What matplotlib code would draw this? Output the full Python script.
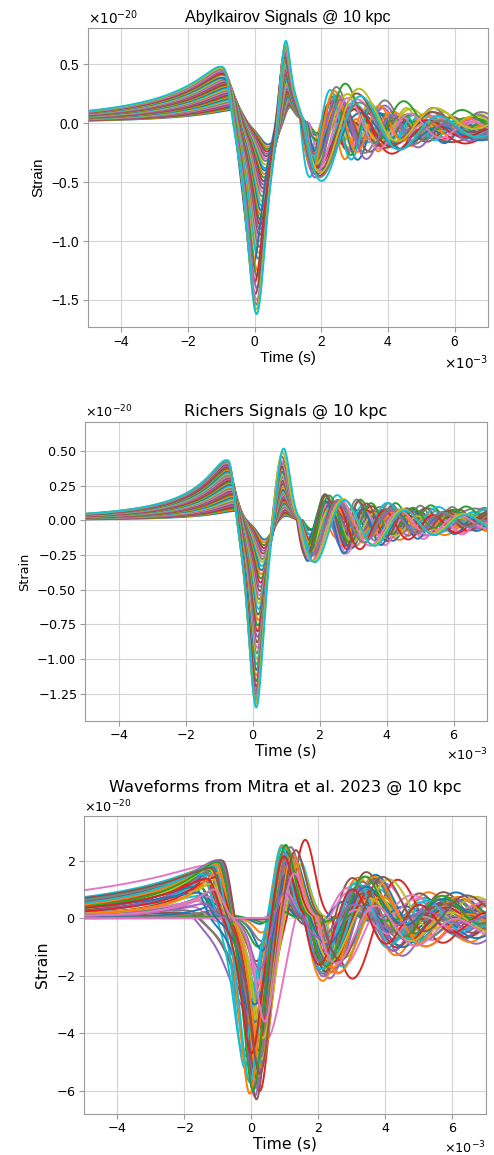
import numpy as np
import matplotlib
matplotlib.use("Agg")
import matplotlib.pyplot as plt
from matplotlib.ticker import MultipleLocator

# all amplitudes in units of 1e-20 strain, all times in ms

# --- Abylkairov signals (one entry per curve) ---
ab_pre = [0.12, 0.13, 0.14, 0.15, 0.16, 0.17, 0.18, 0.19, 0.20, 0.21,
          0.22, 0.23, 0.24, 0.25, 0.26, 0.27, 0.28, 0.29, 0.30, 0.31,
          0.32, 0.33, 0.34, 0.35, 0.36, 0.37, 0.38, 0.39, 0.40, 0.41,
          0.42, 0.43, 0.44, 0.45, 0.46, 0.47, 0.47, 0.48, 0.49, 0.50]
ab_tpre = [-0.50, -0.51, -0.52, -0.53, -0.55, -0.56, -0.57, -0.58, -0.60, -0.61,
           -0.62, -0.63, -0.64, -0.66, -0.67, -0.68, -0.69, -0.70, -0.71, -0.72,
           -0.73, -0.74, -0.75, -0.76, -0.77, -0.78, -0.79, -0.80, -0.81, -0.82,
           -0.83, -0.84, -0.85, -0.86, -0.87, -0.88, -0.89, -0.90, -0.92, -0.94]
ab_dip = [-0.18, -0.20, -0.22, -0.24, -0.26, -0.28, -0.30, -0.32, -0.35, -0.38,
          -0.40, -0.43, -0.46, -0.49, -0.52, -0.55, -0.58, -0.62, -0.66, -0.70,
          -0.74, -0.78, -0.82, -0.86, -0.90, -0.95, -1.00, -1.05, -1.10, -1.15,
          -1.20, -1.25, -1.30, -1.35, -1.40, -1.45, -1.50, -1.54, -1.58, -1.62]
ab_tdip = [0.40, 0.39, 0.38, 0.37, 0.36, 0.35, 0.34, 0.33, 0.32, 0.31,
           0.30, 0.29, 0.28, 0.27, 0.26, 0.25, 0.24, 0.23, 0.22, 0.21,
           0.20, 0.19, 0.18, 0.17, 0.16, 0.15, 0.14, 0.13, 0.12, 0.11,
           -0.05, 0.09, 0.08, 0.00, 0.07, 0.02, 0.06, 0.05, 0.05, 0.06]
ab_post = [0.15, 0.16, 0.17, 0.18, 0.19, 0.20, 0.21, 0.22, 0.23, 0.24,
           0.25, 0.27, 0.28, 0.30, 0.32, 0.33, 0.34, 0.36, 0.37, 0.39,
           0.41, 0.43, 0.44, 0.46, 0.47, 0.49, 0.51, 0.53, 0.54, 0.56,
           0.57, 0.59, 0.60, 0.62, 0.63, 0.65, 0.66, 0.68, 0.70, 0.73]
ab_tpost = [1.04, 1.03, 1.02, 1.02, 1.01, 1.00, 1.00, 0.99, 0.99, 0.98,
            0.98, 0.97, 0.97, 0.96, 0.96, 0.95, 0.95, 0.94, 0.94, 0.93,
            0.93, 0.93, 0.92, 0.92, 0.92, 0.91, 0.91, 0.91, 0.90, 0.90,
            0.88, 0.90, 0.89, 0.88, 0.89, 0.89, 0.90, 0.91, 0.91, 0.92]
ab_ring = [0.10, 0.18, 0.12, 0.22, 0.14, 0.26, 0.16, 0.24, 0.30, 0.18,
           0.28, 0.34, 0.20, 0.32, 0.36, 0.24, 0.34, 0.40, 0.26, 0.36,
           0.42, 0.30, 0.38, 0.44, 0.32, 0.40, 0.46, 0.36, 0.42, 0.48,
           0.38, 0.44, 0.50, 0.40, 0.46, 0.52, 0.44, 0.50, 0.54, 0.56]
ab_per = [1.10, 0.90, 1.30, 1.00, 1.50, 1.20, 0.95, 1.40, 1.10, 1.60,
          1.25, 1.00, 1.80, 1.15, 1.35, 2.00, 1.05, 1.45, 1.20, 2.10,
          1.30, 1.60, 1.10, 2.20, 1.40, 1.70, 2.30, 1.50, 1.90, 1.25,
          2.40, 1.35, 1.75, 2.20, 1.55, 2.30, 1.85, 2.40, 2.30, 2.35]
ab_delay = [0.55, 0.45, 0.60, 0.50, 0.55, 0.45, 0.65, 0.50, 0.55, 0.45,
            0.60, 0.50, 0.55, 0.45, 0.55, 0.50, 0.60, 0.45, 0.55, 0.50,
            0.55, 0.45, 0.60, 0.50, 0.55, 0.45, 0.50, 0.55, 0.50, 0.45,
            0.55, 0.50, 0.55, 0.50, 0.55, 0.50, 0.55, 0.50, 0.55, 0.55]
ab_off = [-0.02, -0.06, 0.03, -0.09, -0.04, 0.01, -0.11, -0.05, 0.04, -0.08,
          -0.03, -0.10, 0.02, -0.06, -0.01, -0.12, -0.04, 0.05, -0.07, -0.02,
          -0.09, 0.00, -0.05, -0.11, 0.03, -0.07, -0.03, -0.08, 0.01, -0.05,
          -0.10, -0.02, 0.04, -0.06, -0.09, -0.01, -0.04, -0.07, 0.02, -0.05]

# --- Richers signals ---
ri_pre = [0.07, 0.08, 0.09, 0.10, 0.11, 0.12, 0.13, 0.14, 0.15, 0.16,
          0.17, 0.18, 0.19, 0.20, 0.21, 0.22, 0.23, 0.24, 0.25, 0.26,
          0.27, 0.28, 0.29, 0.30, 0.31, 0.32, 0.33, 0.34, 0.35, 0.36,
          0.37, 0.38, 0.39, 0.40, 0.41, 0.42, 0.43, 0.44, 0.45, 0.45]
ri_tpre = [-0.45, -0.46, -0.46, -0.47, -0.48, -0.49, -0.49, -0.50, -0.51, -0.52,
           -0.52, -0.53, -0.54, -0.55, -0.55, -0.56, -0.57, -0.58, -0.58, -0.59,
           -0.60, -0.61, -0.61, -0.62, -0.63, -0.64, -0.64, -0.65, -0.66, -0.66,
           -0.67, -0.68, -0.68, -0.69, -0.70, -0.70, -0.71, -0.71, -0.72, -0.72]
ri_dip = [-0.14, -0.16, -0.18, -0.20, -0.22, -0.24, -0.26, -0.28, -0.30, -0.33,
          -0.36, -0.39, -0.42, -0.45, -0.48, -0.51, -0.54, -0.57, -0.60, -0.64,
          -0.68, -0.72, -0.76, -0.80, -0.84, -0.88, -0.92, -0.96, -1.00, -1.04,
          -1.08, -1.12, -1.16, -1.20, -1.23, -1.26, -1.28, -1.30, -1.32, -1.35]
ri_tdip = [0.36, 0.35, 0.34, 0.34, 0.33, 0.32, 0.31, 0.30, 0.29, 0.28,
           0.27, 0.26, 0.25, 0.24, 0.23, 0.22, 0.21, 0.20, 0.19, 0.18,
           0.17, 0.17, 0.16, 0.15, 0.15, 0.14, 0.14, 0.13, 0.13, 0.12,
           0.12, 0.11, 0.11, 0.11, 0.10, 0.10, 0.10, 0.10, 0.10, 0.11]
ri_post = [0.04, 0.05, 0.06, 0.07, 0.08, 0.09, 0.10, 0.11, 0.12, 0.13,
           0.14, 0.15, 0.16, 0.17, 0.18, 0.19, 0.20, 0.21, 0.22, 0.23,
           0.24, 0.26, 0.28, 0.29, 0.30, 0.31, 0.33, 0.34, 0.35, 0.37,
           0.38, 0.40, 0.41, 0.42, 0.44, 0.45, 0.46, 0.49, 0.52, 0.54]
ri_tpost = [0.96, 0.95, 0.95, 0.95, 0.94, 0.94, 0.94, 0.93, 0.93, 0.93,
            0.92, 0.92, 0.92, 0.91, 0.91, 0.91, 0.90, 0.90, 0.90, 0.90,
            0.89, 0.89, 0.89, 0.89, 0.88, 0.88, 0.88, 0.88, 0.87, 0.87,
            0.87, 0.87, 0.86, 0.86, 0.86, 0.86, 0.85, 0.86, 0.88, 0.92]
ri_ring = [0.06, 0.10, 0.08, 0.12, 0.09, 0.14, 0.11, 0.13, 0.16, 0.10,
           0.15, 0.18, 0.12, 0.17, 0.20, 0.14, 0.18, 0.22, 0.16, 0.20,
           0.23, 0.18, 0.21, 0.25, 0.19, 0.24, 0.26, 0.22, 0.20, 0.25,
           0.27, 0.23, 0.26, 0.28, 0.24, 0.27, 0.29, 0.26, 0.30, 0.30]
ri_per = [1.00, 0.90, 1.20, 1.10, 1.30, 0.95, 1.15, 1.40, 1.05, 1.25,
          0.90, 1.35, 1.10, 1.20, 1.00, 1.45, 1.15, 0.95, 1.30, 1.10,
          1.25, 1.40, 1.05, 1.20, 1.35, 1.00, 1.15, 1.60, 1.30, 1.50,
          1.10, 1.70, 1.25, 1.45, 1.60, 1.20, 1.75, 1.55, 1.80, 1.80]
ri_delay = [0.50, 0.45, 0.55, 0.50, 0.45, 0.55, 0.50, 0.45, 0.50, 0.55,
            0.50, 0.45, 0.50, 0.55, 0.50, 0.45, 0.50, 0.55, 0.50, 0.45,
            0.50, 0.55, 0.50, 0.45, 0.50, 0.55, 0.50, 0.45, 0.50, 0.55,
            0.50, 0.45, 0.50, 0.55, 0.50, 0.45, 0.50, 0.55, 0.50, 0.50]
ri_off = [-0.03, -0.07, 0.01, -0.05, -0.09, -0.02, -0.06, 0.02, -0.08, -0.04,
          -0.01, -0.10, -0.05, 0.00, -0.07, -0.03, -0.09, 0.01, -0.06, -0.02,
          -0.08, -0.04, 0.02, -0.07, -0.05, -0.01, -0.09, -0.03, -0.06, 0.00,
          -0.08, -0.04, -0.02, -0.07, -0.05, -0.03, -0.06, -0.04, -0.05, -0.06]

# --- Mitra et al. 2023 waveforms ---
mi_pre = [0.05, 0.10, 0.15, 0.20, 0.30, 0.25, 0.40, 0.35, 0.60, 0.80, 1.05, 1.15, 1.25, 1.40, 1.50,
          1.62, 1.85, 1.78, 1.82, 1.88, 1.92, 1.97, 2.02, 2.07, 2.12, 2.12, 0.75, 0.95, 1.40, 1.62,
          0.50, 1.92, 1.67, 1.35, 2.07, 1.82, 0.60, 0.32, 1.72, 1.57, 1.12, 2.02, 0.10, 1.45,
          0.00, 0.03, 0.00, 1.70, 1.20, 1.90, 0.90, 1.60, 2.05, 1.40, 0.50, 1.75, 1.00]
mi_tpre = [-0.60, -0.80, -1.00, -1.20, -1.90, -1.80, -1.70, -1.80, -1.50, -1.40, -1.50, -1.30, -1.60, -1.40, -1.20,
           -1.50, -1.30, -1.30, -1.20, -1.10, -1.00, -1.00, -0.95, -0.90, -0.90, -0.85, -1.30, -1.10, -1.00, -1.10,
           -1.00, -1.05, -1.20, -1.35, -0.95, -1.15, -1.60, -1.00, -1.25, -1.45, -1.70, -1.00, -0.60, -1.05,
           -0.60, -0.60, -0.60, -1.40, -1.20, -1.10, -1.55, -1.00, -0.95, -1.30, -1.40, -1.20, -1.10]
mi_wpre = [1.0, 1.5, 2.0, 2.5, 3.0, 4.0, 3.0, 5.0, 4.0, 5.0, 3.5, 6.0, 4.5, 2.5, 7.0,
           5.0, 9.0, 4.0, 3.0, 6.0, 2.0, 5.0, 3.0, 1.5, 4.0, 2.5, 1.5, 2.0, 1.8, 2.2,
           1.2, 3.5, 3.0, 5.0, 2.0, 4.5, 3.5, 1.0, 2.8, 6.0, 4.0, 3.5, 1.0, 2.5,
           1.0, 1.0, 1.0, 5.0, 2.0, 4.0, 6.0, 1.6, 3.0, 3.5, 2.5, 6.0, 1.5]
mi_dip = [-0.20, -0.50, -1.00, -1.50, -3.20, -3.80, -4.20, -3.50, -2.00, -2.60, -3.00, -3.40, -3.80, -4.00, -4.30,
          -4.50, -4.60, -4.80, -5.00, -5.20, -5.40, -5.60, -5.80, -6.00, -6.20, -6.30, -2.40, -3.20, -4.40, -5.00,
          -1.20, -5.50, -4.80, -4.10, -5.90, -5.30, -2.20, -0.80, -4.90, -4.70, -3.60, -6.10, -0.15, -4.60,
          0.00, -0.05, 0.00, -5.00, -4.20, -5.70, -3.00, -5.20, -6.00, -4.70, -1.80, -5.40, -3.60]
mi_tdip = [0.25, 0.30, 0.20, 0.15, -0.10, 0.15, 0.45, 0.20, 0.25, 0.20, 0.25, 0.15, 0.30, 0.20, 0.25,
           0.10, 0.15, -0.15, 0.10, -0.20, 0.15, -0.10, 0.10, 0.25, 0.10, 0.15, 0.30, 0.35, 0.30, 0.25,
           0.35, 0.20, 0.20, 0.15, 0.15, 0.10, 0.20, 0.30, 0.30, -0.25, 0.10, -0.05, 0.35, 0.20,
           0.30, 0.30, 0.30, 0.20, 0.35, -0.05, 0.10, 0.30, 0.05, 0.00, 0.25, 0.25, 0.40]
mi_sdip = [0.26, 0.30, 0.35, 0.39, 0.82, 0.78, 0.60, 0.82, 0.39, 0.39, 0.43, 0.40, 0.43, 0.39, 0.40,
           0.39, 0.43, 0.39, 0.39, 0.38, 0.39, 0.38, 0.39, 0.40, 0.39, 0.38, 0.35, 0.38, 0.39, 0.39,
           0.35, 0.40, 0.40, 0.43, 0.39, 0.39, 0.43, 0.35, 0.43, 0.40, 0.60, 0.39, 0.26, 0.39,
           0.30, 0.30, 0.30, 0.42, 0.40, 0.38, 0.50, 0.40, 0.38, 0.40, 0.35, 0.42, 0.38]
mi_post = [0.30, 0.50, 0.80, 1.00, 1.15, 1.55, 0.95, 1.75, 1.10, 1.45, 1.65, 1.85, 1.80, 2.10, 2.20,
           2.00, 2.30, 2.40, 2.50, 2.60, 2.20, 2.60, 2.70, 2.75, 2.50, 2.60, 1.30, 1.25, 1.80, 2.10,
           0.70, 2.40, 2.30, 2.20, 2.60, 2.50, 1.20, 0.65, 2.00, 2.40, 1.70, 2.55, 0.25, 1.90,
           2.30, 1.50, 0.90, 2.50, 1.90, 2.60, 1.80, 2.40, 2.70, 2.30, 1.00, 2.50, 1.70]
mi_tpost = [0.90, 0.95, 0.90, 0.95, 1.10, 1.00, 1.45, 1.10, 0.95, 1.00, 1.05, 0.95, 1.15, 1.05, 1.10,
            0.95, 1.15, 0.95, 1.05, 0.90, 1.25, 0.90, 1.00, 1.60, 0.95, 1.05, 0.90, 1.35, 1.20, 1.40,
            0.85, 1.10, 1.20, 1.05, 1.15, 1.00, 0.90, 1.00, 1.40, 1.05, 1.10, 1.05, 0.90, 1.15,
            0.95, 1.00, 1.05, 1.00, 1.10, 0.90, 1.05, 1.20, 1.00, 0.95, 0.95, 1.30, 1.25]
mi_spost = [0.30, 0.30, 0.35, 0.38, 0.38, 0.38, 0.35, 0.42, 0.35, 0.35, 0.38, 0.38, 0.38, 0.38, 0.38,
            0.35, 0.42, 0.38, 0.38, 0.35, 0.42, 0.35, 0.38, 0.40, 0.38, 0.38, 0.35, 0.38, 0.38, 0.42,
            0.35, 0.38, 0.42, 0.42, 0.42, 0.42, 0.35, 0.35, 0.42, 0.42, 0.38, 0.38, 0.30, 0.38,
            0.25, 0.25, 0.30, 0.38, 0.38, 0.35, 0.38, 0.40, 0.38, 0.38, 0.35, 0.42, 0.38]
mi_ring = [0.30, 0.50, 0.80, 1.00, 1.20, 1.40, 1.60, 1.30, 1.00, 1.30, 1.50, 1.70, 1.60, 1.80, 2.00,
           1.80, 2.40, 2.00, 2.20, 2.10, 2.00, 2.20, 2.40, 2.60, 2.20, 2.30, 0.90, 1.30, 1.70, 1.90,
           0.60, 2.10, 1.90, 1.70, 2.20, 2.10, 0.90, 0.60, 2.00, 1.90, 1.50, 2.30, 0.20, 1.80,
           1.80, 1.20, 0.80, 2.00, 1.60, 2.10, 1.40, 2.00, 2.20, 1.80, 0.80, 2.10, 1.50]
mi_per = [1.8, 2.0, 2.2, 2.4, 2.0, 2.2, 2.5, 2.3, 2.2, 2.0, 2.4, 2.1, 2.6, 2.3, 2.2,
          2.0, 2.8, 2.1, 2.3, 2.0, 2.4, 2.2, 2.6, 2.7, 2.1, 2.3, 1.9, 2.5, 2.4, 2.2,
          1.8, 2.5, 2.3, 2.1, 2.4, 2.2, 2.0, 2.2, 2.6, 2.4, 2.2, 2.5, 2.0, 2.3,
          2.2, 2.4, 2.0, 2.2, 2.4, 2.1, 2.3, 2.6, 2.3, 2.0, 2.1, 2.5, 2.4]
mi_delay = [0.6, 0.6, 0.7, 0.7, 0.6, 0.7, 0.7, 0.8, 0.6, 0.7, 0.7, 0.7, 0.8, 0.7, 0.7,
            0.6, 0.8, 0.7, 0.7, 0.7, 0.7, 0.7, 0.8, 0.8, 0.7, 0.7, 0.6, 0.7, 0.7, 0.8,
            0.6, 0.7, 0.8, 0.7, 0.8, 0.7, 0.6, 0.6, 0.8, 0.7, 0.7, 0.8, 0.6, 0.7,
            0.6, 0.6, 0.6, 0.7, 0.7, 0.7, 0.7, 0.8, 0.7, 0.6, 0.6, 0.8, 0.7]
mi_off = [0.0, 0.1, -0.2, 0.2, -0.3, 0.0, -0.4, 0.2, 0.0, 0.3, -0.1, 0.4, -0.2, 0.1, -0.5,
          0.3, 0.0, -0.3, 0.2, -0.1, 0.4, -0.4, 0.1, 0.0, -0.2, 0.3, 0.5, -0.3, 0.0, -0.1,
          0.2, -0.2, 0.2, -0.3, 0.1, -0.1, 0.4, -0.2, 0.3, 0.0, -0.4, 0.2, 0.0, -0.1,
          0.0, 0.2, -0.2, 0.1, -0.2, 0.0, 0.3, -0.3, 0.2, -0.1, 0.0, 0.3, -0.4]


def waveform(t, pre, tpre, wpre, fall, dip, tdip, sdip, post, tpost, spost,
             ring, per, delay, tau, off, drift=0.0, shoulder=0.0):
    # slow pre-bounce rise to a rounded peak, then a fast fall
    d = np.sqrt((tpre - t) ** 2 + 0.09) - 0.3
    rise = pre / (1 + d / wpre) ** 2
    drop = pre * np.exp(-((t - tpre) / fall) ** 2)
    h = np.where(t < tpre, rise, drop)
    # sharp bounce dip and the positive peak after it
    h = h + dip / np.cosh((t - tdip) / sdip) ** 2
    h = h + post * np.exp(-((t - tpost) / spost) ** 2)
    h = h + shoulder * post * np.exp(-((t - tpost - 0.3) / 0.2) ** 2)
    # damped ring-down
    s = np.clip(t - (tpost + delay), 0, None)
    h = h - ring * np.sin(2 * np.pi * s / per) * np.exp(-s / tau)
    h = h + (off + drift * s) * (1 - np.exp(-s / 0.3))
    return h


def style_axes(ax, title, ylim, ystep, tick_size, xlabel_size, ylabel_size, family):
    ax.set_xlim(-5e-3, 7e-3)
    ax.set_ylim(ylim[0] * 1e-20, ylim[1] * 1e-20)
    ax.xaxis.set_major_locator(MultipleLocator(2e-3))
    ax.yaxis.set_major_locator(MultipleLocator(ystep * 1e-20))
    ax.ticklabel_format(style="sci", scilimits=(0, 0), axis="both")
    ax.grid(True, color="#d3d3d3", linewidth=0.8)
    ax.set_axisbelow(True)
    for sp in ax.spines.values():
        sp.set_color("#9a9a9a")
    ax.tick_params(color="#9a9a9a", labelsize=tick_size, length=3.5, pad=2.5)
    for lab in ax.get_xticklabels() + ax.get_yticklabels():
        lab.set_fontfamily(family)
    ax.xaxis.get_offset_text().set_fontsize(tick_size)
    ax.yaxis.get_offset_text().set_fontsize(tick_size)
    ax.set_xlabel("Time (s)", fontsize=xlabel_size, family=family, labelpad=1)
    ax.set_ylabel("Strain", fontsize=ylabel_size, family=family)
    ax.set_title(title, fontsize=11.6, family=family, pad=4.5)


def main():
    plt.rcParams["axes.formatter.use_mathtext"] = True
    fig = plt.figure(figsize=(4.94, 11.55), dpi=100)
    t = np.linspace(-5, 7, 1500)
    lw = 1.4

    ax1 = fig.add_axes([0.178, 0.7169, 0.8097, 0.2589])
    for i in range(len(ab_pre)):
        h = waveform(t, ab_pre[i], ab_tpre[i], 3.2, 0.25, ab_dip[i], ab_tdip[i], 0.36,
                     ab_post[i], ab_tpost[i], 0.2, ab_ring[i], ab_per[i], ab_delay[i], 2.5, ab_off[i],
                     shoulder=0.25)
        ax1.plot(t * 1e-3, h * 1e-20, lw=lw)
    style_axes(ax1, "Abylkairov Signals @ 10 kpc", (-1.73, 0.81), 0.5, 9.8, 11.1, 10.9, "Liberation Sans")

    ax2 = fig.add_axes([0.1721, 0.3758, 0.8138, 0.2589])
    for i in range(len(ri_pre)):
        h = waveform(t, ri_pre[i], ri_tpre[i], 1.9, 0.22, ri_dip[i], ri_tdip[i], 0.30,
                     ri_post[i], ri_tpost[i], 0.27, ri_ring[i], ri_per[i], ri_delay[i], 3.0, ri_off[i], 0.008)
        ax2.plot(t * 1e-3, h * 1e-20, lw=lw)
    style_axes(ax2, "Richers Signals @ 10 kpc", (-1.447, 0.709), 0.25, 9.2, 10.9, 9.3, "DejaVu Sans")

    ax3 = fig.add_axes([0.170, 0.0355, 0.8138, 0.258])
    for i in range(len(mi_pre)):
        h = waveform(t, mi_pre[i], mi_tpre[i], mi_wpre[i], 0.35, mi_dip[i], mi_tdip[i], mi_sdip[i],
                     mi_post[i], mi_tpost[i], mi_spost[i], mi_ring[i], mi_per[i], mi_delay[i], 3.0,
                     mi_off[i])
        ax3.plot(t * 1e-3, h * 1e-20, lw=lw)
    style_axes(ax3, "Waveforms from Mitra et al. 2023 @ 10 kpc", (-6.8, 3.55), 2, 9.2, 11.3, 11.3, "DejaVu Sans")

    fig.savefig("out.png", dpi=100)
    plt.close(fig)


if __name__ == "__main__":
    main()
